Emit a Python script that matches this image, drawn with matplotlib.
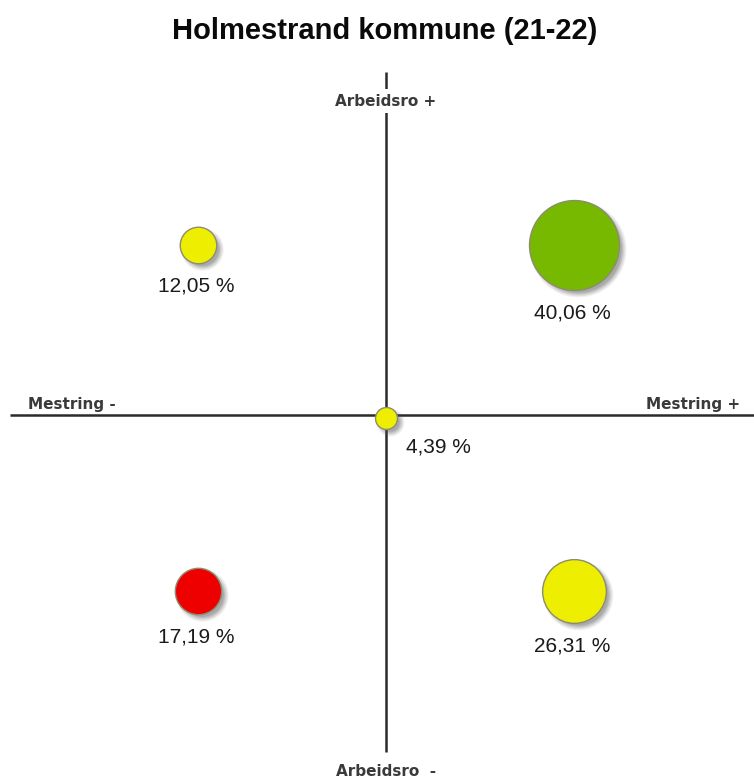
import matplotlib.pyplot as plt
import matplotlib.transforms as mtransforms

# Quadrant data: position on mestring / arbeidsro axis and share of pupils
labels = ["40,06 %", "12,05 %", "4,39 %", "17,19 %", "26,31 %"]
values = [40.06, 12.05, 4.39, 17.19, 26.31]
mestring = [1, -1, 0, -1, 1]
arbeidsro = [1, 1, 0, -1, -1]
colors = ["#77b800", "#eeee00", "#eeee00", "#ee0000", "#eeee00"]

DPI = 100
fig = plt.figure(figsize=(7.54, 7.78), dpi=DPI)
ax = fig.add_axes([0, 0, 1, 1])
# pixel layout: origin at (386, 418), ~188 px per unit in x, ~173 px in y
ax.set_xlim(-386 / 188, (754 - 386) / 188)
ax.set_ylim(-(778 - 418) / 173, 418 / 173)
ax.axis("off")

px2pt = 72 / DPI
line_col = "#2b2b2b"
up3 = mtransforms.offset_copy(ax.transData, fig=fig, x=0, y=3 * px2pt, units="points")
ax.plot([-376 / 188, 368 / 188], [0, 0], color=line_col, lw=1.8, zorder=1,
        solid_capstyle="butt", transform=up3)
ax.plot([0, 0], [-(752 - 418) / 173, (418 - 72) / 173], color=line_col, lw=1.8, zorder=1,
        solid_capstyle="butt")

lab_font = dict(family="DejaVu Sans", fontweight="bold", fontsize=11, color="#3a3a3a")
ax.text(0, (418 - 101) / 173, "Arbeidsro +", ha="center", va="center", zorder=2,
        bbox=dict(facecolor="white", edgecolor="none", pad=3), **lab_font)
ax.text(0, -(771 - 418) / 173, "Arbeidsro  -", ha="center", va="center", zorder=2,
        bbox=dict(facecolor="white", edgecolor="none", pad=3), **lab_font)
ax.text(-(386 - 28) / 188, 9 / 173, "Mestring -", ha="left", va="baseline", zorder=2, **lab_font)
ax.text((740 - 386) / 188, 9 / 173, "Mestring +", ha="right", va="baseline", zorder=2, **lab_font)

for lab, v, mx, ay, c in zip(labels, values, mestring, arbeidsro, colors):
    r = 6.8 + 0.953 * v  # radius in pixels
    # soft shadow
    tr = mtransforms.offset_copy(ax.transData, fig=fig, x=4 * px2pt, y=-4 * px2pt, units="points")
    for k, a in enumerate([0.08, 0.10, 0.12, 0.15, 0.18]):
        rr = r + 3 - k * 1.2
        ax.scatter([mx], [ay], s=(2 * rr * px2pt) ** 2, color="#555555", alpha=a,
                   linewidths=0, transform=tr, zorder=3)
    ax.scatter([mx], [ay], s=(2 * r * px2pt) ** 2, color=c, edgecolors="#8c8c70",
               linewidths=1.0, zorder=4)
    if mx == 0 and ay == 0:
        ax.annotate(lab, (mx, ay), xytext=(52 * px2pt, -29 * px2pt), textcoords="offset points",
                    ha="center", va="center", fontsize=15, family="Liberation Sans", color="#1a1a1a", zorder=5)
    else:
        ax.annotate(lab, (mx, ay), xytext=(-2 * px2pt, -(r + 23) * px2pt), textcoords="offset points",
                    ha="center", va="center", fontsize=15, family="Liberation Sans", color="#1a1a1a", zorder=5)

fig.text(385 / 754, 1 - 31 / 778, "Holmestrand kommune (21-22)", ha="center", va="center",
         fontsize=21, fontweight="bold", family="Liberation Sans", color="#0a0a0a")

fig.savefig("out.png", dpi=DPI)
